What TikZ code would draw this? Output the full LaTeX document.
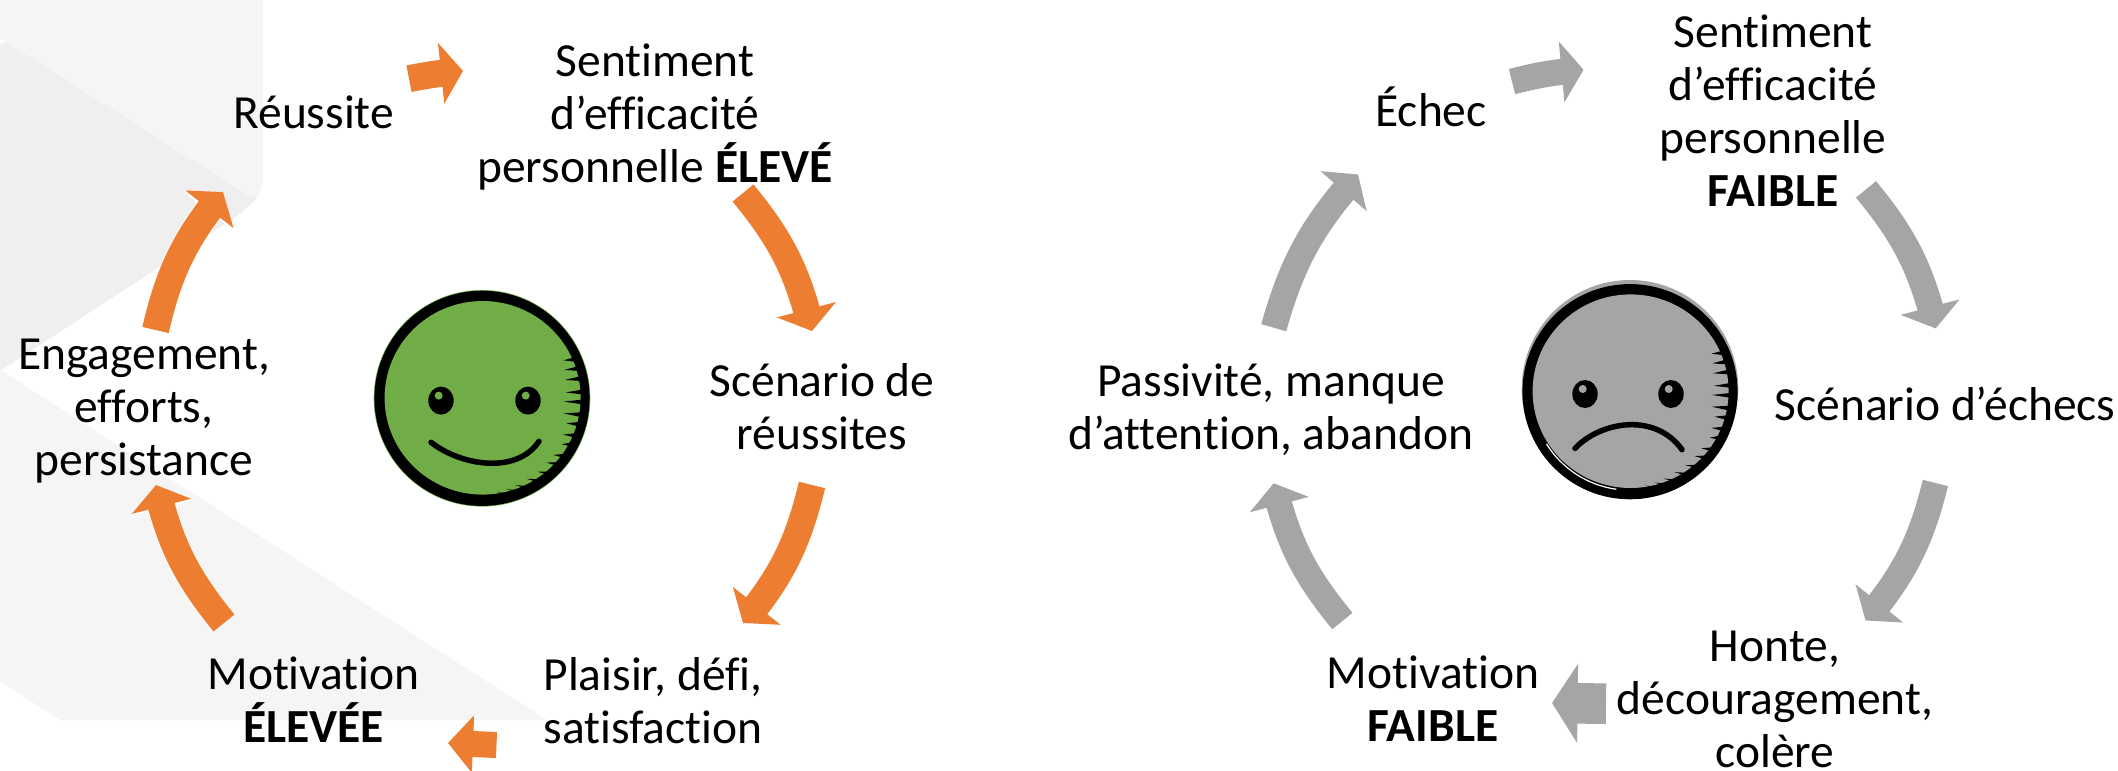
\documentclass[tikz,border=0pt]{standalone}
\usepackage{fontspec}
\setmainfont{Carlito}[Ligatures=NoCommon]
\usetikzlibrary{arrows.meta,bending}
\definecolor{orangeA}{HTML}{ED7D31}
\definecolor{greyA}{HTML}{A5A5A5}
\definecolor{greenA}{HTML}{70AD47}
\definecolor{bgA}{HTML}{F5F5F5}
\definecolor{bgB}{HTML}{EFEFEF}
\tikzset{
  label/.style={anchor=base,align=center,inner sep=0pt,text=black,font=\fontsize{47.5}{53}\selectfont},
}
% #1 colour, #2 from, #3 to, #4 shaft width, #5 head width, #6 head length, #7 bend
\newcommand\blockarrow[7]{%
  \draw[white,line width=#4+2,-{Triangle[length=#6+2,width=#5+3,flex=1]}] (#2) to[bend right=#7] (#3);
  \draw[#1,line width=#4,-{Triangle[length=#6,width=#5,flex=1]}] (#2) to[bend right=#7] (#3);
}
% #1 centre, #2 fill, #3 mouth, #4 eye x offset left, #5 eye x offset right, #6 underlay centre
\newcommand\facedraw[6]{%
  \fill[#2] (#6) circle (108.3);
  \begin{scope}[shift={(#1)}]
    \fill[black] (0,0) circle (107.6);
    \fill[#2] (0.6,-0.5) ellipse (98 and 96.8);
    \foreach \a/\r in {-58.6/100,-54.6/100,-48.5/100,-41/99,-36/98.7,-25/90,-19/87,-12.5/85,-4/84,2.3/82,10.4/83,16.5/88,24/89,30/92,38.5/91,45/91,53/92,61/92,69/93,75/94,81/95}{
      \fill[black] (\a:\r) -- ({0.9*\a-1.4}:101) -- ({0.9*\a+1.4}:101) -- cycle;
    }
    \foreach \e in {#4,#5}{
      \fill[black] (\e,2.3) ellipse (12.7 and 14);
      \fill[#2] (\e-2.3,-2.7) circle (4);
    }
    \draw[black,line width=5.5,line cap=round] #3;
  \end{scope}
}
\begin{document}
\begin{tikzpicture}[x=1pt,y=1pt,yscale=-1]
\useasboundingbox (0,0) rectangle (2118,771);
\clip (0,0) rectangle (2118,771);
% background chevrons
\fill[bgA] (0,0) -- (263,0) -- (263,178) .. controls (263,188) and (260,194) .. (253,203) -- (237,216) -- (0,371) -- (0,44) -- (6,42) -- (0,38) -- cycle;
\fill[bgB] (6,42) -- (250,197) -- (258,197) -- (237,216) -- (0,371) -- (0,44) -- cycle;
\fill[bgA] (2,371) -- (547,720) -- (60,720) -- (0,681) -- (0,373) -- cycle;
% named ends of the connectors
\coordinate (a1s) at (409,78.7);   \coordinate (a1e) at (463,71);
\coordinate (a2s) at (155.5,330);  \coordinate (a2e) at (223,192);
\coordinate (a3s) at (224,623);    \coordinate (a3e) at (156,485);
\coordinate (a4s) at (743,193);    \coordinate (a4e) at (812,331);
\coordinate (a5s) at (812,485);    \coordinate (a5e) at (743,623);
\coordinate (a6s) at (496.5,745);  \coordinate (a6e) at (448,743);
\coordinate (r1s) at (1512,81.6);  \coordinate (r1e) at (1583.5,69.8);
\coordinate (r2s) at (1866,189.4); \coordinate (r2e) at (1935.7,328.4);
\coordinate (r3s) at (1935.4,483); \coordinate (r3e) at (1865.5,620.5);
\coordinate (r4s) at (1606,703.7); \coordinate (r4e) at (1552,703);
\coordinate (r5s) at (1342.4,621); \coordinate (r5e) at (1273.7,483.3);
\coordinate (r6s) at (1273.7,327.7); \coordinate (r6e) at (1358,174.5);
% arrows
\blockarrow{orangeA}{a1s}{a1e}{27}{60}{22}{3}
\blockarrow{orangeA}{a2s}{a2e}{27}{60}{22}{13}
\blockarrow{orangeA}{a3s}{a3e}{27}{60}{22}{13}
\blockarrow{orangeA}{a4s}{a4e}{27}{60}{22}{13}
\blockarrow{orangeA}{a5s}{a5e}{27}{60}{22}{13}
\blockarrow{orangeA}{a6s}{a6e}{26}{56}{25}{0}
\blockarrow{greyA}{r1s}{r1e}{26}{60}{22}{5}
\blockarrow{greyA}{r2s}{r2e}{26}{60}{22}{13}
\blockarrow{greyA}{r3s}{r3e}{26}{60}{22}{13}
\blockarrow{greyA}{r4s}{r4e}{40.6}{78}{25.6}{0}
\blockarrow{greyA}{r5s}{r5e}{26}{60}{22}{13}
\blockarrow{greyA}{r6s}{r6e}{26}{60}{22}{13}
% faces
\facedraw{482,398.3}{greenA}{(-51,44) .. controls (-20,68) and (35,76) .. (57,43)}{-41}{46}{482,398.3}
\facedraw{1630,391.7}{greyA}{(-55,56.7) .. controls (-30,30) and (25,20) .. (52,58)}{-45}{41}{1630,388.3}
\draw[white,line width=1.2] (1630,391.7) ++(98:98.5) arc (98:148:98.5);
% labels
\node[label] (reussite) at (313.7,128.5) {Réussite};
\node[label] (sentG) at (655,182) {Sentiment\\d’efficacité\\personnelle \textbf{ÉLEVÉ}};
\node[label] (scenG) at (822,449) {Scénario de\\réussites};
\node[label] (plaisir) at (653,743.5) {Plaisir, défi,\\satisfaction};
\node[label] (motG) at (313.6,742.5) {Motivation\\\textbf{ÉLEVÉE}};
\node[label] (engag) at (144,475) {Engagement,\\efforts,\\persistance};
\node[label] (echec) at (1431,126.5) {Échec};
\node[label] (sentD) at (1773,206.5) {Sentiment\\d’efficacité\\personnelle\\\textbf{FAIBLE}};
\node[label] (scenD) at (1945,420.5) {Scénario d’échecs};
\node[label] (honte) at (1775,767) {Honte,\\découragement,\\colère};
\node[label] (motD) at (1433,741.5) {Motivation\\\textbf{FAIBLE}};
\node[label] (passiv) at (1271,449.5) {Passivité, manque\\d’attention, abandon};
\end{tikzpicture}
\end{document}
